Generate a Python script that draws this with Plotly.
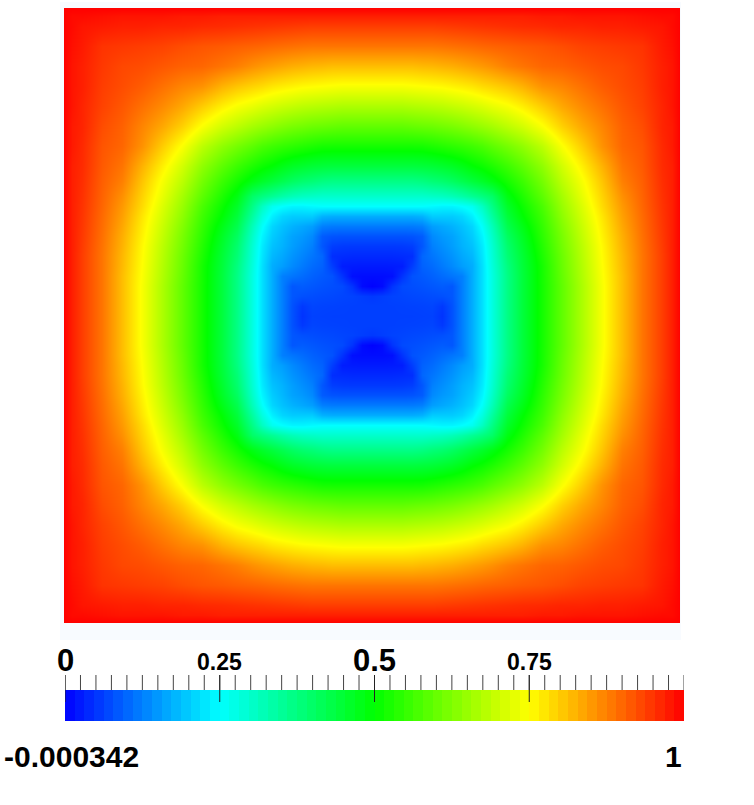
import numpy as np
import plotly.graph_objects as go

W, H = 754, 805

# Distance from the centre of the square at which values were read
offsets = [0,10,20,30,40,50,60,70,80,90,100,110,120,135,150,170,190,210,230,250,270,290,300,308]

# Field values for one quadrant of the square (rows: vertical offset, columns: horizontal offset)
quadrant = [
 [.062,.062,.062,.062,.062,.063,.064,.05,.08,.125,.17,.22,.28,.37,.44,.519,.595,.669,.743,.814,.885,.94,.97,1],
 [.062,.062,.062,.063,.064,.065,.067,.055,.08,.125,.17,.22,.28,.37,.44,.519,.595,.669,.743,.814,.885,.94,.97,1],
 [.055,.06,.065,.067,.07,.072,.075,.078,.085,.125,.17,.22,.28,.37,.44,.519,.595,.669,.743,.814,.885,.94,.97,1],
 [.002,.01,.05,.072,.076,.08,.085,.09,.085,.125,.17,.22,.28,.37,.44,.519,.595,.669,.743,.814,.885,.94,.97,1],
 [.012,.012,.015,.05,.08,.087,.095,.105,.115,.125,.17,.22,.28,.37,.44,.52,.599,.673,.746,.814,.885,.94,.97,1],
 [.025,.025,.026,.028,.06,.095,.105,.12,.135,.155,.17,.22,.285,.375,.443,.52,.603,.676,.749,.818,.885,.94,.97,1],
 [.04,.04,.04,.042,.045,.10,.115,.13,.145,.165,.18,.225,.29,.385,.447,.527,.606,.68,.752,.82,.885,.94,.97,1],
 [.055,.055,.055,.056,.06,.085,.125,.14,.155,.175,.19,.23,.295,.393,.455,.534,.613,.684,.755,.825,.887,.942,.97,1],
 [.08,.08,.08,.08,.082,.09,.135,.15,.16,.18,.20,.24,.305,.406,.464,.542,.619,.691,.761,.829,.89,.944,.97,1],
 [.12,.12,.12,.12,.12,.125,.155,.165,.175,.19,.21,.255,.32,.424,.478,.55,.628,.698,.767,.836,.893,.946,.97,1],
 [.17,.17,.17,.17,.17,.175,.20,.20,.20,.21,.235,.28,.345,.442,.496,.56,.639,.707,.774,.843,.896,.948,.97,1],
 [.25,.25,.25,.25,.25,.25,.245,.24,.24,.25,.265,.31,.37,.46,.51,.572,.65,.716,.785,.85,.90,.95,.97,1],
 [.30,.30,.30,.30,.30,.30,.305,.31,.32,.335,.355,.375,.40,.482,.528,.59,.662,.728,.793,.859,.903,.952,.97,1],
 [.37,.37,.37,.37,.37,.375,.385,.393,.406,.424,.442,.46,.482,.52,.557,.614,.684,.743,.807,.875,.907,.955,.97,1],
 [.44,.44,.44,.44,.44,.443,.447,.455,.464,.478,.496,.51,.528,.557,.59,.64,.706,.765,.825,.886,.912,.958,.97,1],
 [.519,.519,.519,.519,.519,.52,.527,.534,.542,.55,.56,.572,.59,.614,.64,.684,.746,.80,.857,.90,.917,.96,.975,1],
 [.595,.595,.595,.595,.599,.603,.606,.613,.619,.628,.639,.65,.662,.684,.706,.746,.796,.836,.87,.905,.925,.965,.975,1],
 [.669,.669,.669,.669,.673,.676,.68,.684,.691,.698,.707,.716,.728,.743,.765,.80,.836,.865,.89,.915,.935,.965,.98,1],
 [.743,.743,.743,.743,.746,.749,.752,.755,.761,.767,.774,.785,.793,.807,.825,.857,.87,.89,.91,.925,.94,.97,.98,1],
 [.814,.814,.814,.814,.814,.818,.82,.825,.829,.836,.843,.85,.859,.875,.886,.90,.905,.915,.925,.93,.945,.97,.98,1],
 [.885,.885,.885,.885,.885,.885,.885,.887,.89,.893,.896,.90,.903,.907,.912,.917,.925,.935,.94,.945,.95,.975,.985,1],
 [.94,.94,.94,.94,.94,.94,.94,.942,.944,.946,.948,.95,.952,.955,.958,.96,.965,.965,.97,.97,.975,.98,.99,1],
 [.97,.97,.97,.97,.97,.97,.97,.97,.97,.97,.97,.97,.97,.97,.97,.975,.975,.98,.98,.98,.985,.99,.99,1],
 [1,1,1,1,1,1,1,1,1,1,1,1,1,1,1,1,1,1,1,1,1,1,1,1],
]

# Colour bar
bar_steps = 64
minor_ticks = [i / 40 for i in range(41)]
major_ticks = [0, 0.25, 0.5, 0.75]
tick_labels = [("0", 0, 31, 5), ("0.25", 0.25, 23, 2), ("0.5", 0.5, 31, 5), ("0.75", 0.75, 23, 2)]
range_min_label = "-0.000342"
range_max_label = "1"

scale = [[0, "#0000ff"], [.25, "#00ffff"], [.5, "#00ff00"], [.75, "#ffff00"], [1, "#ff0000"]]

q = np.array(quadrant)
right = np.hstack([q[:, :0:-1], q])          # left half + right half
full = np.vstack([right[:0:-1], right])
coords = [-o for o in offsets[:0:-1]] + offsets

fig = go.Figure()
fig.add_trace(go.Heatmap(x=coords, y=coords, z=full.tolist(), colorscale=scale, zmin=0, zmax=1,
                         zsmooth="best", showscale=False, hoverinfo="skip"))

# bar: y2 is measured downward from the top of the tick marks
edges = np.linspace(0, 1, bar_steps + 1)
centres = (edges[:-1] + edges[1:]) / 2
fig.add_trace(go.Heatmap(x=edges.tolist(), y=[15, 46], z=[centres.tolist()], xaxis="x2", yaxis="y2",
                         colorscale=scale, zmin=0, zmax=1, showscale=False, hoverinfo="skip"))

tx, ty = [], []
for t in minor_ticks:
    tx += [t, t, None]; ty += [0, 15, None]
fig.add_trace(go.Scatter(x=tx, y=ty, mode="lines", xaxis="x2", yaxis="y2", hoverinfo="skip",
                         line=dict(color="#444444", width=1)))
tx, ty = [], []
for t in major_ticks:
    tx += [t, t, None]; ty += [0, 27, None]
fig.add_trace(go.Scatter(x=tx, y=ty, mode="lines", xaxis="x2", yaxis="y2", hoverinfo="skip",
                         line=dict(color="#222222", width=1)))

anns = []
for text, pos, size, dy in tick_labels:
    anns.append(dict(text=text, x=pos, y=dy, xref="x2", yref="y2", xanchor="center", yanchor="bottom",
                     showarrow=False,
                     font=dict(family="Liberation Sans", size=size, color="black", weight=700)))
anns.append(dict(text=range_min_label, x=141 / W, y=1 - 756 / H, xref="paper", yref="paper", xanchor="right",
                 yanchor="middle", showarrow=False,
                 font=dict(family="Liberation Sans", size=30, color="black", weight=700)))
anns.append(dict(text=range_max_label, x=684 / W, y=1 - 756 / H, xref="paper", yref="paper", xanchor="right",
                 yanchor="middle", showarrow=False,
                 font=dict(family="Liberation Sans", size=30, color="black", weight=700)))

hidden = dict(showgrid=False, zeroline=False, showticklabels=False, ticks="", showline=False)
fig.update_layout(
    width=W, height=H, autosize=False, margin=dict(l=0, r=0, t=0, b=0),
    paper_bgcolor="white", plot_bgcolor="rgba(0,0,0,0)", showlegend=False, annotations=anns,
    xaxis=dict(domain=[64 / W, 680 / W], range=[-308, 308], **hidden),
    yaxis=dict(domain=[1 - 623 / H, 1 - 8 / H], range=[-308, 308], **hidden),
    xaxis2=dict(domain=[65 / W, 684 / W], range=[0, 1], anchor="y2", **hidden),
    yaxis2=dict(domain=[1 - 721 / H, 1 - 645 / H], range=[46, -30], anchor="x2", **hidden),
    shapes=[dict(type="rect", xref="paper", yref="paper", layer="below", line_width=0, fillcolor="#f8fbff",
                 x0=60 / W, x1=681 / W, y0=1 - 640 / H, y1=1 - 2 / H)],
)
fig.write_html("out.html", config={"displayModeBar": False},
               post_script="document.body.style.margin='0';document.body.style.overflow='hidden';")
